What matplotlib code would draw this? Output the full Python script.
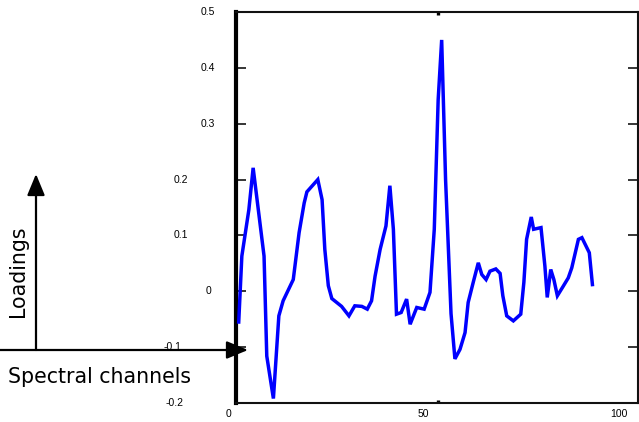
import matplotlib
matplotlib.use("Agg")
import matplotlib.pyplot as plt
import matplotlib.transforms as mtransforms

# Loading spectrum (channel, loading)
channels = [2.5, 3.3, 5.1, 6.2, 9.0, 9.7, 11.4, 12.8, 13.9, 16.5, 18.0, 19.3,
            20.0, 22.8, 23.9, 24.6, 25.5, 26.4, 28.9, 30.8, 32.3, 34.1, 35.5,
            36.6, 37.5, 38.8, 40.3, 41.3, 42.2, 43.0, 44.2, 45.6, 46.5, 48.2,
            50.1, 51.6, 52.7, 53.7, 54.6, 55.6, 57.0, 58.0, 59.3, 60.6, 61.4,
            62.7, 64.0, 64.9, 66.0, 67.0, 68.5, 69.6, 70.3, 71.3, 73.0, 74.9,
            75.7, 76.4, 77.6, 78.2, 80.1, 81.1, 81.7, 82.6, 83.4, 84.3, 85.8,
            87.1, 88.0, 89.7, 90.6, 92.5, 93.3]
loadings = [-0.055, 0.063, 0.146, 0.221, 0.063, -0.116, -0.192, -0.044, -0.017,
            0.021, 0.105, 0.158, 0.178, 0.200, 0.164, 0.075, 0.010, -0.013,
            -0.027, -0.044, -0.026, -0.027, -0.032, -0.017, 0.027, 0.075,
            0.117, 0.189, 0.111, -0.041, -0.038, -0.014, -0.059, -0.029,
            -0.032, -0.002, 0.111, 0.343, 0.450, 0.200, -0.040, -0.121,
            -0.104, -0.074, -0.020, 0.016, 0.051, 0.030, 0.021, 0.036, 0.040,
            0.032, -0.008, -0.044, -0.053, -0.041, 0.016, 0.093, 0.133, 0.111,
            0.114, 0.045, -0.011, 0.039, 0.021, -0.008, 0.009, 0.024, 0.042,
            0.093, 0.096, 0.069, 0.012]

x_tick_values = [0, 50, 100]
x_tick_labels = ["0", "50", "100"]
y_tick_values = [0.5, 0.4, 0.3, 0.2, 0.1, 0.0, -0.1, -0.2]
y_tick_labels = ["0.5", "0.4", "0.3", "0.2", "0.1", "0", "-0.1", "-0.2"]
# horizontal label centres, in pixels from the figure's left edge
y_label_px = [208, 208, 208, 181, 181, 208, 173, 175]

W, H = 639, 422
fig = plt.figure(figsize=(W / 100, H / 100), dpi=100)
ax_left, ax_right, ax_top, ax_bottom = 236, 638, 12, 403
ax = fig.add_axes([ax_left / W, 1 - ax_bottom / H,
                   (ax_right - ax_left) / W, (ax_bottom - ax_top) / H])

ax.plot(channels, loadings, color="#0000ff", lw=2.5, solid_joinstyle="miter",
        zorder=3)

ax.set_xlim(1.8, 105.0)
ax.set_ylim(-0.2, 0.5)

for side in ["top", "right", "bottom"]:
    ax.spines[side].set_linewidth(1.5)
    ax.spines[side].set_color("#111111")
ax.spines["left"].set_linewidth(3.0)
ax.spines["left"].set_color("black")

# y ticks on both sides, pointing inwards, labels drawn separately
ax.set_yticks(y_tick_values)
ax.tick_params(axis="y", which="both", direction="in", length=7, width=1.1,
               left=True, right=True, labelleft=False, labelright=False,
               color="black")
# single small tick mark on top and bottom spines
ax.set_xticks([53.7])
ax.tick_params(axis="x", which="both", direction="in", length=2.2, width=2.4,
               top=True, bottom=True, labelbottom=False, labeltop=False,
               color="black")

tick_font = dict(family="Liberation Sans", fontsize=7.5, color="black")
ytrans = mtransforms.blended_transform_factory(ax.transAxes, ax.transData)
for val, lab, px in zip(y_tick_values, y_tick_labels, y_label_px):
    ax.text((px - ax_left) / (ax_right - ax_left), val, lab, transform=ytrans,
            ha="center", va="center", clip_on=False, **tick_font)

xtrans = mtransforms.blended_transform_factory(ax.transData, ax.transAxes)
for val, lab in zip(x_tick_values, x_tick_labels):
    ax.text(val, -11 / (ax_bottom - ax_top), lab, transform=xtrans,
            ha="center", va="center", clip_on=False, **tick_font)

# axis-direction arrows and their captions
arrow_style = "-|>,head_length=0.87,head_width=0.36"
ax.annotate("", xy=(248, H - 350), xytext=(0, H - 350),
            xycoords="figure pixels", textcoords="figure pixels",
            arrowprops=dict(arrowstyle=arrow_style, mutation_scale=15, lw=1.6,
                            color="black", shrinkA=0, shrinkB=0),
            annotation_clip=False, zorder=5)
ax.annotate("", xy=(36, H - 174), xytext=(36, H - 350),
            xycoords="figure pixels", textcoords="figure pixels",
            arrowprops=dict(arrowstyle=arrow_style, mutation_scale=15, lw=1.6,
                            color="black", shrinkA=0, shrinkB=0),
            annotation_clip=False, zorder=5)

fig.text(8 / W, 1 - 383 / H, "Spectral channels", family="DejaVu Sans",
         fontsize=14.8, ha="left", va="baseline")
fig.text(18 / W, 1 - 271 / H, "Loadings", family="DejaVu Sans",
         fontsize=14.8, rotation=90, ha="center", va="center")

fig.savefig("out.png", dpi=100)
